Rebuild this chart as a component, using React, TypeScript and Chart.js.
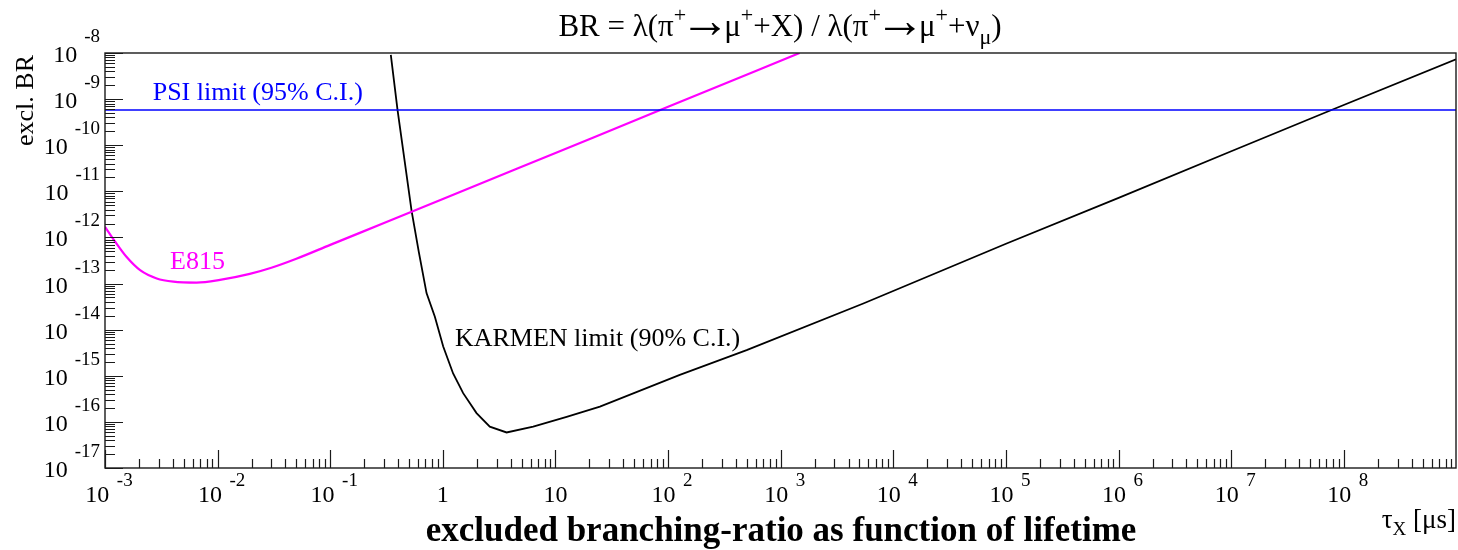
import React, { useEffect, useRef } from "react";
import { Chart, registerables } from "chart.js";

Chart.register(...registerables);

// ---- axis ranges / ticks ----
const xMin = 1e-3;
const xMax = 9.9e8;
const yMin = 1e-17;
const yMax = 1e-8;

const xTickValues = [1e-3, 1e-2, 1e-1, 1, 10, 1e2, 1e3, 1e4, 1e5, 1e6, 1e7, 1e8];
const xTickBases = ["10", "10", "10", "1", "10", "10", "10", "10", "10", "10", "10", "10"];
const xTickExps = ["-3", "-2", "-1", "", "", "2", "3", "4", "5", "6", "7", "8"];

const yTickValues = [1e-17, 1e-16, 1e-15, 1e-14, 1e-13, 1e-12, 1e-11, 1e-10, 1e-9, 1e-8];
const yTickBases = ["10", "10", "10", "10", "10", "10", "10", "10", "10", "10"];
const yTickExps = ["-17", "-16", "-15", "-14", "-13", "-12", "-11", "-10", "-9", "-8"];

// ---- series ----
const e815Tau = [1e-3, 1.23e-3, 1.55e-3, 2.05e-3, 2.88e-3, 4.04e-3, 6.5e-3, 1.05e-2, 1.93e-2, 3e-2, 5e-2, 0.1, 0.3, 1, 10, 100, 1470];
const e815BR = [1.7e-12, 8.1e-13, 3.8e-13, 1.95e-13, 1.29e-13, 1.1e-13, 1.05e-13, 1.2e-13, 1.62e-13, 2.2e-13, 3.45e-13, 6.9e-13, 2.05e-12, 6.8e-12, 6.8e-11, 6.8e-10, 1e-8];

const karmenTau = [0.345, 0.396, 0.527, 0.61, 0.716, 0.849, 1.007, 1.233, 1.514, 1.99, 2.61, 3.68, 6.34, 12.56, 24.8, 127, 498, 5410, 1e5, 1e6, 1e7, 7.76e7, 9.9e8];
const karmenBR = [9.1e-9, 5.8e-10, 3.8e-12, 5e-13, 6.2e-14, 1.9e-14, 4.3e-15, 1.12e-15, 4.2e-16, 1.55e-16, 7.9e-17, 5.9e-17, 7.9e-17, 1.29e-16, 2.14e-16, 1.05e-15, 3.6e-15, 3.7e-14, 7.3e-13, 7.2e-12, 7.4e-11, 5.8e-10, 7.3e-9];

const psiTau = [1e-3, 9.9e8];
const psiBR = [5.8e-10, 5.8e-10];

// ---- text labels (anchored in data coordinates) ----
const labelTexts = ["PSI limit (95% C.I.)", "E815", "KARMEN limit (90% C.I.)"];
const labelTau = [2.65e-3, 3.78e-3, 1.28];
const labelBR = [9.6e-10, 2.07e-13, 4.4e-15];
const labelColors = ["#0000ff", "#ff00ff", "#000000"];

const SERIF = '"Liberation Serif", "DejaVu Serif", serif';

type Part = { t: string; size: number; dy: number; bold?: boolean; family?: string; kb?: number; ka?: number };

function fontOf(p: Part) {
  return `${p.bold ? "bold " : ""}${p.size}px ${p.family || SERIF}`;
}

function measureParts(ctx: CanvasRenderingContext2D, parts: Part[]) {
  let w = 0;
  for (const p of parts) {
    ctx.font = fontOf(p);
    w += ctx.measureText(p.t).width + (p.kb || 0) + (p.ka || 0);
  }
  return w;
}

function drawParts(ctx: CanvasRenderingContext2D, parts: Part[], x: number, y: number, color: string) {
  let cx = x;
  ctx.fillStyle = color;
  ctx.textAlign = "left";
  ctx.textBaseline = "alphabetic";
  for (const p of parts) {
    ctx.font = fontOf(p);
    cx += p.kb || 0;
    ctx.fillText(p.t, cx, y + p.dy);
    cx += ctx.measureText(p.t).width + (p.ka || 0);
  }
}

const rootPlugin = {
  id: "rootStyle",
  afterDraw(chart: any) {
    const ctx: CanvasRenderingContext2D = chart.ctx;
    const ca = chart.chartArea;
    const xs = chart.scales.x;
    const ys = chart.scales.y;
    ctx.save();

    // frame
    ctx.strokeStyle = "#1a1a1a";
    ctx.lineWidth = 1.4;
    ctx.strokeRect(ca.left, ca.top, ca.right - ca.left, ca.bottom - ca.top);

    // x ticks
    ctx.lineWidth = 1.2;
    ctx.beginPath();
    for (let d = -3; d <= 8; d++) {
      for (let m = 1; m <= 9; m++) {
        const v = m * Math.pow(10, d);
        if (v > xMax) break;
        const px = Math.round(xs.getPixelForValue(v)) + 0.5;
        const len = m === 1 ? 18 : 9;
        ctx.moveTo(px, ca.bottom);
        ctx.lineTo(px, ca.bottom - len);
      }
    }
    // y ticks
    for (let d = -17; d <= -8; d++) {
      for (let m = 1; m <= 9; m++) {
        const v = m * Math.pow(10, d);
        if (v > yMax * 1.0001) break;
        const py = Math.round(ys.getPixelForValue(v)) + 0.5;
        const len = m === 1 ? 18 : 10;
        ctx.moveTo(ca.left, py);
        ctx.lineTo(ca.left + len, py);
      }
    }
    ctx.stroke();

    // x tick labels
    xTickValues.forEach((v, i) => {
      const px = xs.getPixelForValue(v);
      const base = xTickBases[i];
      const ex = xTickExps[i];
      if (ex) {
        const parts: Part[] = [
          { t: base, size: 24, dy: 0 },
          { t: " ", size: 30, dy: 0 },
          { t: ex, size: 19, dy: -16 },
        ];
        const w = measureParts(ctx, parts);
        drawParts(ctx, parts, px - w / 2 + 4, 502, "#000");
      } else {
        ctx.font = `24px ${SERIF}`;
        const w = ctx.measureText(base).width;
        drawParts(ctx, [{ t: base, size: 24, dy: 0 }], px - w / 2, 502, "#000");
      }
    });

    // y tick labels (right-aligned at x = 100)
    yTickValues.forEach((v, i) => {
      const py = ys.getPixelForValue(v);
      const parts: Part[] = [
        { t: yTickBases[i], size: 24, dy: 9 },
        { t: " ", size: 28, dy: 0 },
        { t: yTickExps[i], size: 19, dy: -11 },
      ];
      const w = measureParts(ctx, parts);
      drawParts(ctx, parts, 100 - w, py, "#000");
    });

    // title
    const tS = 31;
    const sS = 22;
    const aS = 50;
    const titleParts: Part[] = [
      { t: "BR = λ(π", size: tS, dy: 0 },
      { t: "+", size: sS, dy: -14 },
      { t: "→", size: aS, dy: 1, kb: -6, ka: -6 },
      { t: "μ", size: tS, dy: 0 },
      { t: "+", size: sS, dy: -14 },
      { t: "+X) / λ(π", size: tS, dy: 0 },
      { t: "+", size: sS, dy: -14 },
      { t: "→", size: aS, dy: 1, kb: -6, ka: -6 },
      { t: "μ", size: tS, dy: 0 },
      { t: "+", size: sS, dy: -14 },
      { t: "+ν", size: tS, dy: 0 },
      { t: "μ", size: sS, dy: 8 },
      { t: ")", size: tS, dy: 0 },
    ];
    const tw = measureParts(ctx, titleParts);
    drawParts(ctx, titleParts, 780 - tw / 2, 36, "#000");

    // x axis title
    ctx.font = `bold 35px ${SERIF}`;
    ctx.fillStyle = "#000";
    ctx.textAlign = "center";
    ctx.textBaseline = "alphabetic";
    ctx.fillText("excluded branching-ratio as function of lifetime", 781, 541);

    // tau_X [mus]
    const tauParts: Part[] = [
      { t: "τ", size: 27, dy: 0 },
      { t: "X", size: 19, dy: 7 },
      { t: " [μs]", size: 27, dy: 0 },
    ];
    const tauW = measureParts(ctx, tauParts);
    drawParts(ctx, tauParts, 1456 - tauW, 528, "#000");

    // y axis title
    ctx.save();
    ctx.translate(33, 55);
    ctx.rotate(-Math.PI / 2);
    ctx.font = `26px ${SERIF}`;
    ctx.fillStyle = "#000";
    ctx.textAlign = "right";
    ctx.textBaseline = "alphabetic";
    ctx.fillText("excl. BR", 0, 0);
    ctx.restore();

    // curve labels
    labelTexts.forEach((txt, i) => {
      ctx.font = `26px ${SERIF}`;
      ctx.fillStyle = labelColors[i];
      ctx.textAlign = "left";
      ctx.textBaseline = "alphabetic";
      ctx.fillText(txt, xs.getPixelForValue(labelTau[i]), ys.getPixelForValue(labelBR[i]));
    });

    ctx.restore();
  },
};

function toPoints(xs: number[], ys: number[]) {
  return xs.map((x, i) => ({ x, y: ys[i] }));
}

export default function App() {
  const canvasRef = useRef<HTMLCanvasElement | null>(null);

  useEffect(() => {
    if (!canvasRef.current) return;
    const chart = new Chart(canvasRef.current, {
      type: "scatter",
      data: {
        datasets: [
          {
            label: "PSI limit (95% C.I.)",
            data: toPoints(psiTau, psiBR),
            showLine: true,
            borderColor: "#0000ff",
            borderWidth: 1.5,
            pointRadius: 0,
            tension: 0,
          },
          {
            label: "E815",
            data: toPoints(e815Tau, e815BR),
            showLine: true,
            borderColor: "#ff00ff",
            borderWidth: 2.2,
            pointRadius: 0,
            cubicInterpolationMode: "monotone",
          },
          {
            label: "KARMEN limit (90% C.I.)",
            data: toPoints(karmenTau, karmenBR),
            showLine: true,
            borderColor: "#000000",
            borderWidth: 1.8,
            pointRadius: 0,
            tension: 0,
          },
        ],
      },
      options: {
        responsive: false,
        animation: false,
        events: [],
        layout: { padding: { left: 105, right: 2, top: 53, bottom: 82 } },
        plugins: {
          legend: { display: false },
          tooltip: { enabled: false },
          title: { display: false },
        },
        scales: {
          x: { type: "logarithmic", min: xMin, max: xMax, display: false },
          y: { type: "logarithmic", min: yMin, max: yMax, display: false },
        },
      },
      plugins: [rootPlugin],
    });
    return () => chart.destroy();
  }, []);

  return (
    <div style={{ position: "absolute", left: 0, top: 0, width: 1458, height: 550, background: "#fff" }}>
      <canvas ref={canvasRef} width={1458} height={550} style={{ display: "block" }} />
    </div>
  );
}
